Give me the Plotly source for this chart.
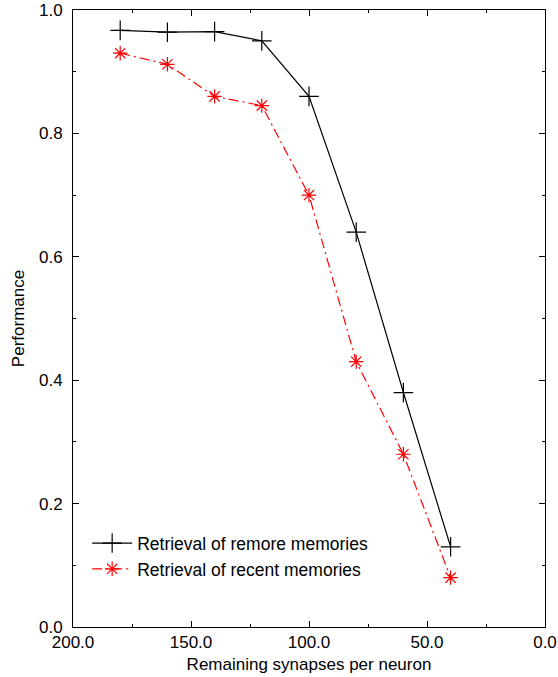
import plotly.graph_objects as go

synapses = [180, 160, 140, 120, 100, 80, 60, 40]
remote = [0.967, 0.964, 0.965, 0.950, 0.860, 0.640, 0.380, 0.130]
recent = [0.930, 0.912, 0.860, 0.845, 0.700, 0.430, 0.280, 0.080]

x_ticks = [200, 150, 100, 50, 0]
x_labels = ["200.0", "150.0", "100.0", "50.0", "0.0"]
y_ticks = [0, 0.2, 0.4, 0.6, 0.8, 1.0]
y_labels = ["0.0", "0.2", "0.4", "0.6", "0.8", "1.0"]

FONT = "Liberation Sans, Arial, Helvetica, sans-serif"
FS = 17

fig = go.Figure()
fig.add_trace(go.Scatter(
    x=synapses, y=remote, mode="lines+markers",
    name="Retrieval of remore memories",
    line=dict(color="black", width=1.2),
    marker=dict(symbol="cross-thin-open", size=14, line=dict(color="black", width=1.2)),
))
fig.add_trace(go.Scatter(
    x=synapses, y=recent, mode="lines+markers",
    name="Retrieval of recent memories",
    line=dict(color="red", width=1.2, dash="10px,4px,2px,4px"),
    marker=dict(symbol="asterisk-open", size=12, color="red", line=dict(color="red", width=1.2)),
))

fig.update_layout(
    width=558, height=677,
    margin=dict(l=73, r=13, t=10, b=50),
    paper_bgcolor="white", plot_bgcolor="white",
    font=dict(family=FONT, size=FS, color="black"),
    showlegend=True,
    legend=dict(
        x=0.03, y=0.165, xanchor="left", yanchor="top",
        bgcolor="rgba(0,0,0,0)", font=dict(size=17.5),
        itemwidth=40, tracegroupgap=0,
    ),
)

fig.update_xaxes(
    range=[200, 0], tickvals=x_ticks, ticktext=x_labels,
    ticks="inside", ticklen=6, tickcolor="black", tickwidth=1,
    minor=dict(dtick=25, ticks="inside", ticklen=3, tickcolor="black"),
    showline=True, linecolor="black", linewidth=1, mirror="ticks",
    showgrid=False, zeroline=False, automargin=False,
    title=dict(text="Remaining synapses per neuron", standoff=6, font=dict(size=FS)),
    tickfont=dict(size=FS),
)
fig.update_yaxes(
    range=[0, 1.0], tickvals=y_ticks, ticktext=y_labels,
    ticks="inside", ticklen=6, tickcolor="black", tickwidth=1,
    minor=dict(dtick=0.1, ticks="inside", ticklen=3, tickcolor="black"),
    showline=True, linecolor="black", linewidth=1, mirror="ticks",
    showgrid=False, zeroline=False, automargin=False,
    title=dict(text="Performance", standoff=10, font=dict(size=FS)),
    tickfont=dict(size=FS), ticklabelstandoff=6,
)

fig.write_html("out.html")
